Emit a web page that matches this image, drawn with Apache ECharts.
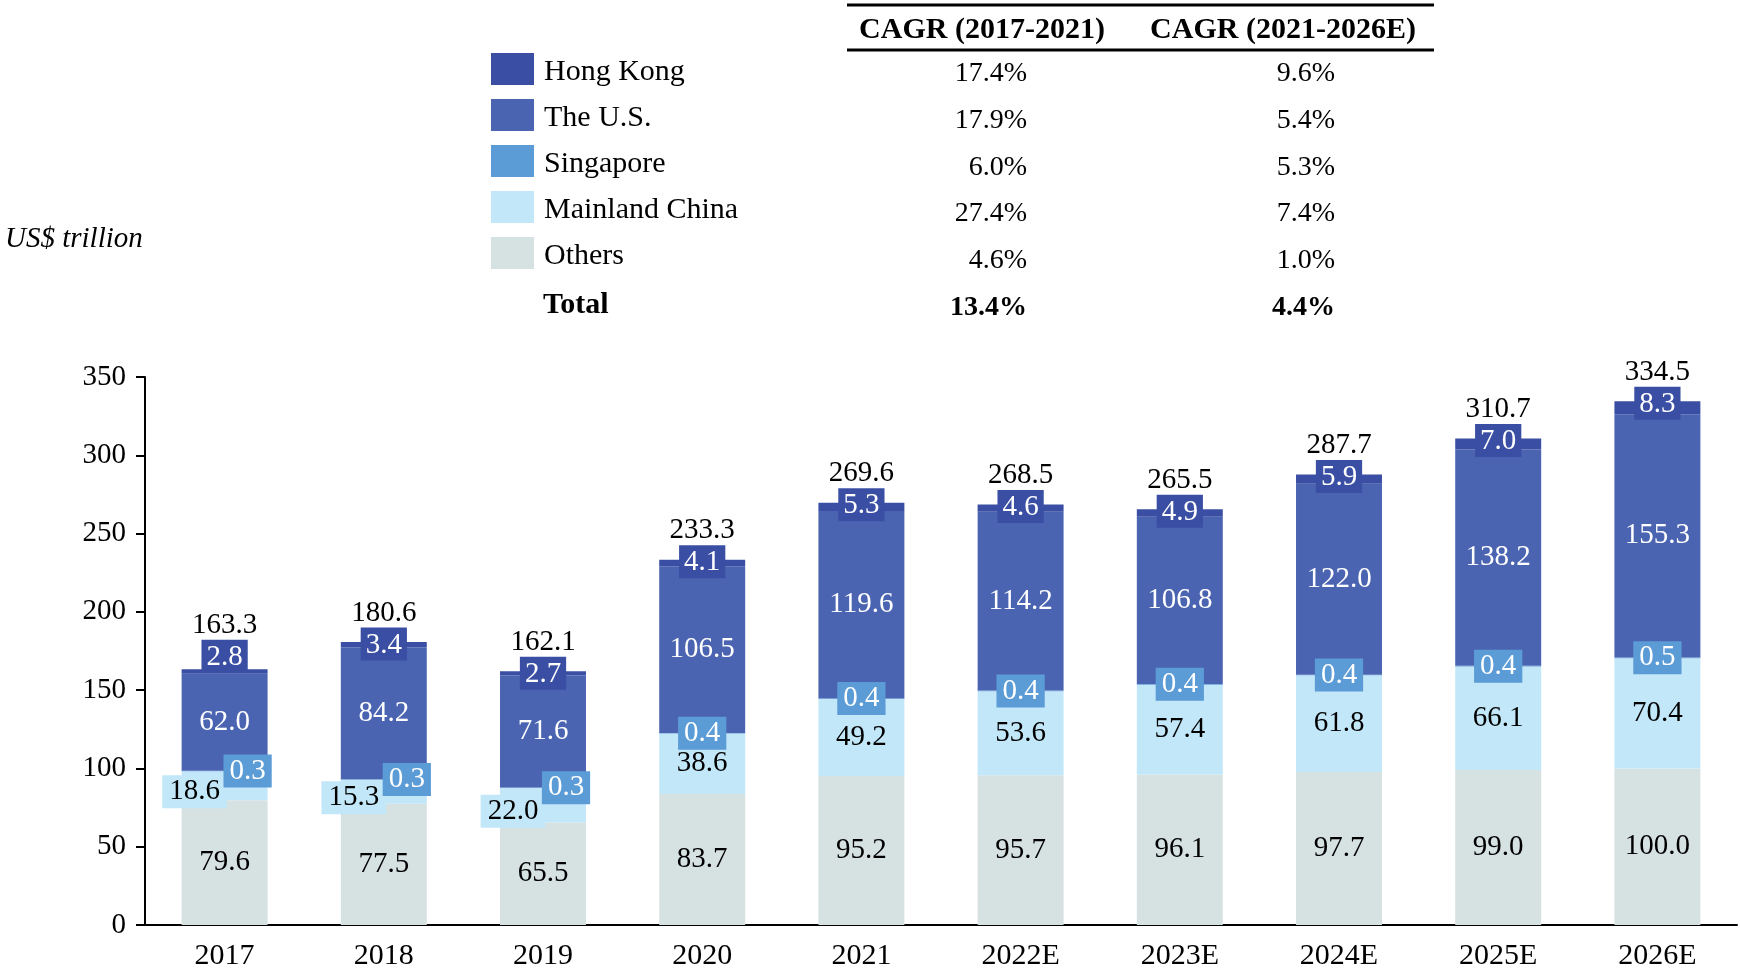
<!DOCTYPE html>
<html>
<head>
<meta charset="utf-8">
<script src="https://cdn.jsdelivr.net/npm/echarts@6/dist/echarts.min.js"></script>
<style>
html,body{margin:0;padding:0;background:#fff;}
#chart{width:1740px;height:974px;}
</style>
</head>
<body>
<div id="chart"></div>
<script>
const categories = ['2017','2018','2019','2020','2021','2022E','2023E','2024E','2025E','2026E'];
const others    = [79.6, 77.5, 65.5, 83.7, 95.2, 95.7, 96.1, 97.7, 99.0, 100.0];
const mainland  = [18.6, 15.3, 22.0, 38.6, 49.2, 53.6, 57.4, 61.8, 66.1, 70.4];
const singapore = [0.3, 0.3, 0.3, 0.4, 0.4, 0.4, 0.4, 0.4, 0.4, 0.5];
const us        = [62.0, 84.2, 71.6, 106.5, 119.6, 114.2, 106.8, 122.0, 138.2, 155.3];
const hongkong  = [2.8, 3.4, 2.7, 4.1, 5.3, 4.6, 4.9, 5.9, 7.0, 8.3];
const totals    = [163.3, 180.6, 162.1, 233.3, 269.6, 268.5, 265.5, 287.7, 310.7, 334.5];
const yTicks = {min: 0, max: 350, interval: 50};

const legendNames = ['Hong Kong', 'The U.S.', 'Singapore', 'Mainland China', 'Others'];
const cagr1 = ['17.4%', '17.9%', '6.0%', '27.4%', '4.6%'];
const cagr2 = ['9.6%', '5.4%', '5.3%', '7.4%', '1.0%'];
const cagrTotal1 = '13.4%';
const cagrTotal2 = '4.4%';
const cagrHeaders = ['CAGR (2017-2021)', 'CAGR (2021-2026E)'];

const FONT = '"Liberation Serif", "Times New Roman", serif';
const C_HK = '#3a4fa4';
const C_US = '#4a64b1';
const C_SG = '#5b9bd6';
const C_MC = '#c2e7f8';
const C_OT = '#d6e1e1';

const sideCount = 3; // first bars have side-placed small labels
const fmt = p => Number(p.value).toFixed(1);

const chart = echarts.init(document.getElementById('chart'));

const mcData = mainland.map((v, i) => i < sideCount ? {
  value: v,
  label: {offset: [-30, 6], backgroundColor: C_MC, padding: [3, 7, 1, 7]}
} : v);
const sgData = singapore.map((v, i) => i < sideCount ? {
  value: v,
  label: {offset: [23, 0]}
} : v);
const hkData = hongkong.map((v, i) => i === 0 ? {value: v, label: {distance: -1}} : v);

const baseLabel = {show: true, fontFamily: FONT, fontSize: 29, formatter: fmt};

const graphics = [];
graphics.push({
  type: 'text', left: 5, top: 225,
  style: {text: 'US$ trillion', font: 'italic 29px ' + FONT, fill: '#000'}
});
graphics.push({type: 'text', style: {text: 'Total', x: 543, y: 305, verticalAlign: 'middle', font: 'bold 30px ' + FONT, fill: '#000'}});
graphics.push({type: 'line', shape: {x1: 847, y1: 5, x2: 1434, y2: 5}, style: {stroke: '#000', lineWidth: 3}});
graphics.push({type: 'line', shape: {x1: 847, y1: 50, x2: 1434, y2: 50}, style: {stroke: '#000', lineWidth: 3}});
graphics.push({type: 'text', style: {text: cagrHeaders[0], x: 982, y: 30, align: 'center', verticalAlign: 'middle', font: 'bold 30px ' + FONT, fill: '#000'}});
graphics.push({type: 'text', style: {text: cagrHeaders[1], x: 1283, y: 30, align: 'center', verticalAlign: 'middle', font: 'bold 30px ' + FONT, fill: '#000'}});
const rowY = [74, 121, 168, 214, 261];
cagr1.forEach((t, i) => {
  graphics.push({type: 'text', style: {text: t, x: 1027, y: rowY[i], align: 'right', verticalAlign: 'middle', font: '28px ' + FONT, fill: '#000'}});
});
cagr2.forEach((t, i) => {
  graphics.push({type: 'text', style: {text: t, x: 1335, y: rowY[i], align: 'right', verticalAlign: 'middle', font: '28px ' + FONT, fill: '#000'}});
});
graphics.push({type: 'text', style: {text: cagrTotal1, x: 1027, y: 308, align: 'right', verticalAlign: 'middle', font: 'bold 28px ' + FONT, fill: '#000'}});
graphics.push({type: 'text', style: {text: cagrTotal2, x: 1335, y: 308, align: 'right', verticalAlign: 'middle', font: 'bold 28px ' + FONT, fill: '#000'}});

const option = {
  animation: false,
  backgroundColor: '#fff',
  textStyle: {fontFamily: FONT},
  grid: {left: 145, right: 3, top: 377, bottom: 49, containLabel: false},
  legend: {
    orient: 'vertical', left: 486, top: 48,
    icon: 'rect', itemWidth: 43, itemHeight: 32, itemGap: 12,
    data: legendNames,
    selectedMode: false,
    formatter: n => '{a|' + n + '}',
    textStyle: {
      fontFamily: FONT, fontSize: 30, color: '#000',
      rich: {a: {fontFamily: FONT, fontSize: 30, color: '#000', padding: [6, 0, 0, 5]}}
    }
  },
  graphic: graphics,
  xAxis: {
    type: 'category', data: categories,
    axisLine: {lineStyle: {color: '#000', width: 2}},
    axisTick: {show: false},
    axisLabel: {fontFamily: FONT, fontSize: 30, color: '#000', margin: 16}
  },
  yAxis: {
    type: 'value', min: yTicks.min, max: yTicks.max, interval: yTicks.interval,
    axisLine: {show: true, lineStyle: {color: '#000', width: 2}},
    axisTick: {show: true, length: 9, lineStyle: {color: '#000', width: 2}},
    splitLine: {show: false},
    axisLabel: {fontFamily: FONT, fontSize: 29, color: '#000', margin: 19}
  },
  series: [
    {
      name: 'Others', type: 'bar', stack: 'a', barWidth: '54%', data: others,
      itemStyle: {color: C_OT},
      label: Object.assign({}, baseLabel, {position: 'inside', color: '#000'})
    },
    {
      name: 'Mainland China', type: 'bar', stack: 'a', data: mcData,
      itemStyle: {color: C_MC},
      label: Object.assign({}, baseLabel, {position: 'inside', color: '#000'})
    },
    {
      name: 'Singapore', type: 'bar', stack: 'a', data: sgData,
      itemStyle: {color: C_SG},
      label: Object.assign({}, baseLabel, {position: 'inside', color: '#fff', backgroundColor: C_SG, padding: [3, 6, 1, 6]})
    },
    {
      name: 'The U.S.', type: 'bar', stack: 'a', data: us,
      itemStyle: {color: C_US},
      label: Object.assign({}, baseLabel, {position: 'inside', color: '#fff'})
    },
    {
      name: 'Hong Kong', type: 'bar', stack: 'a', data: hkData,
      itemStyle: {color: C_HK},
      label: {
        show: true, position: 'top', distance: -16,
        formatter: p => '{t|' + totals[p.dataIndex].toFixed(1) + '}\n{h|' + Number(p.value).toFixed(1) + '}',
        rich: {
          t: {fontFamily: FONT, fontSize: 29, color: '#000', lineHeight: 34, align: 'center'},
          h: {fontFamily: FONT, fontSize: 29, color: '#fff', backgroundColor: C_HK, padding: [3, 5, 1, 5], lineHeight: 28, align: 'center'}
        }
      }
    }
  ]
};
chart.setOption(option);
</script>
</body>
</html>
